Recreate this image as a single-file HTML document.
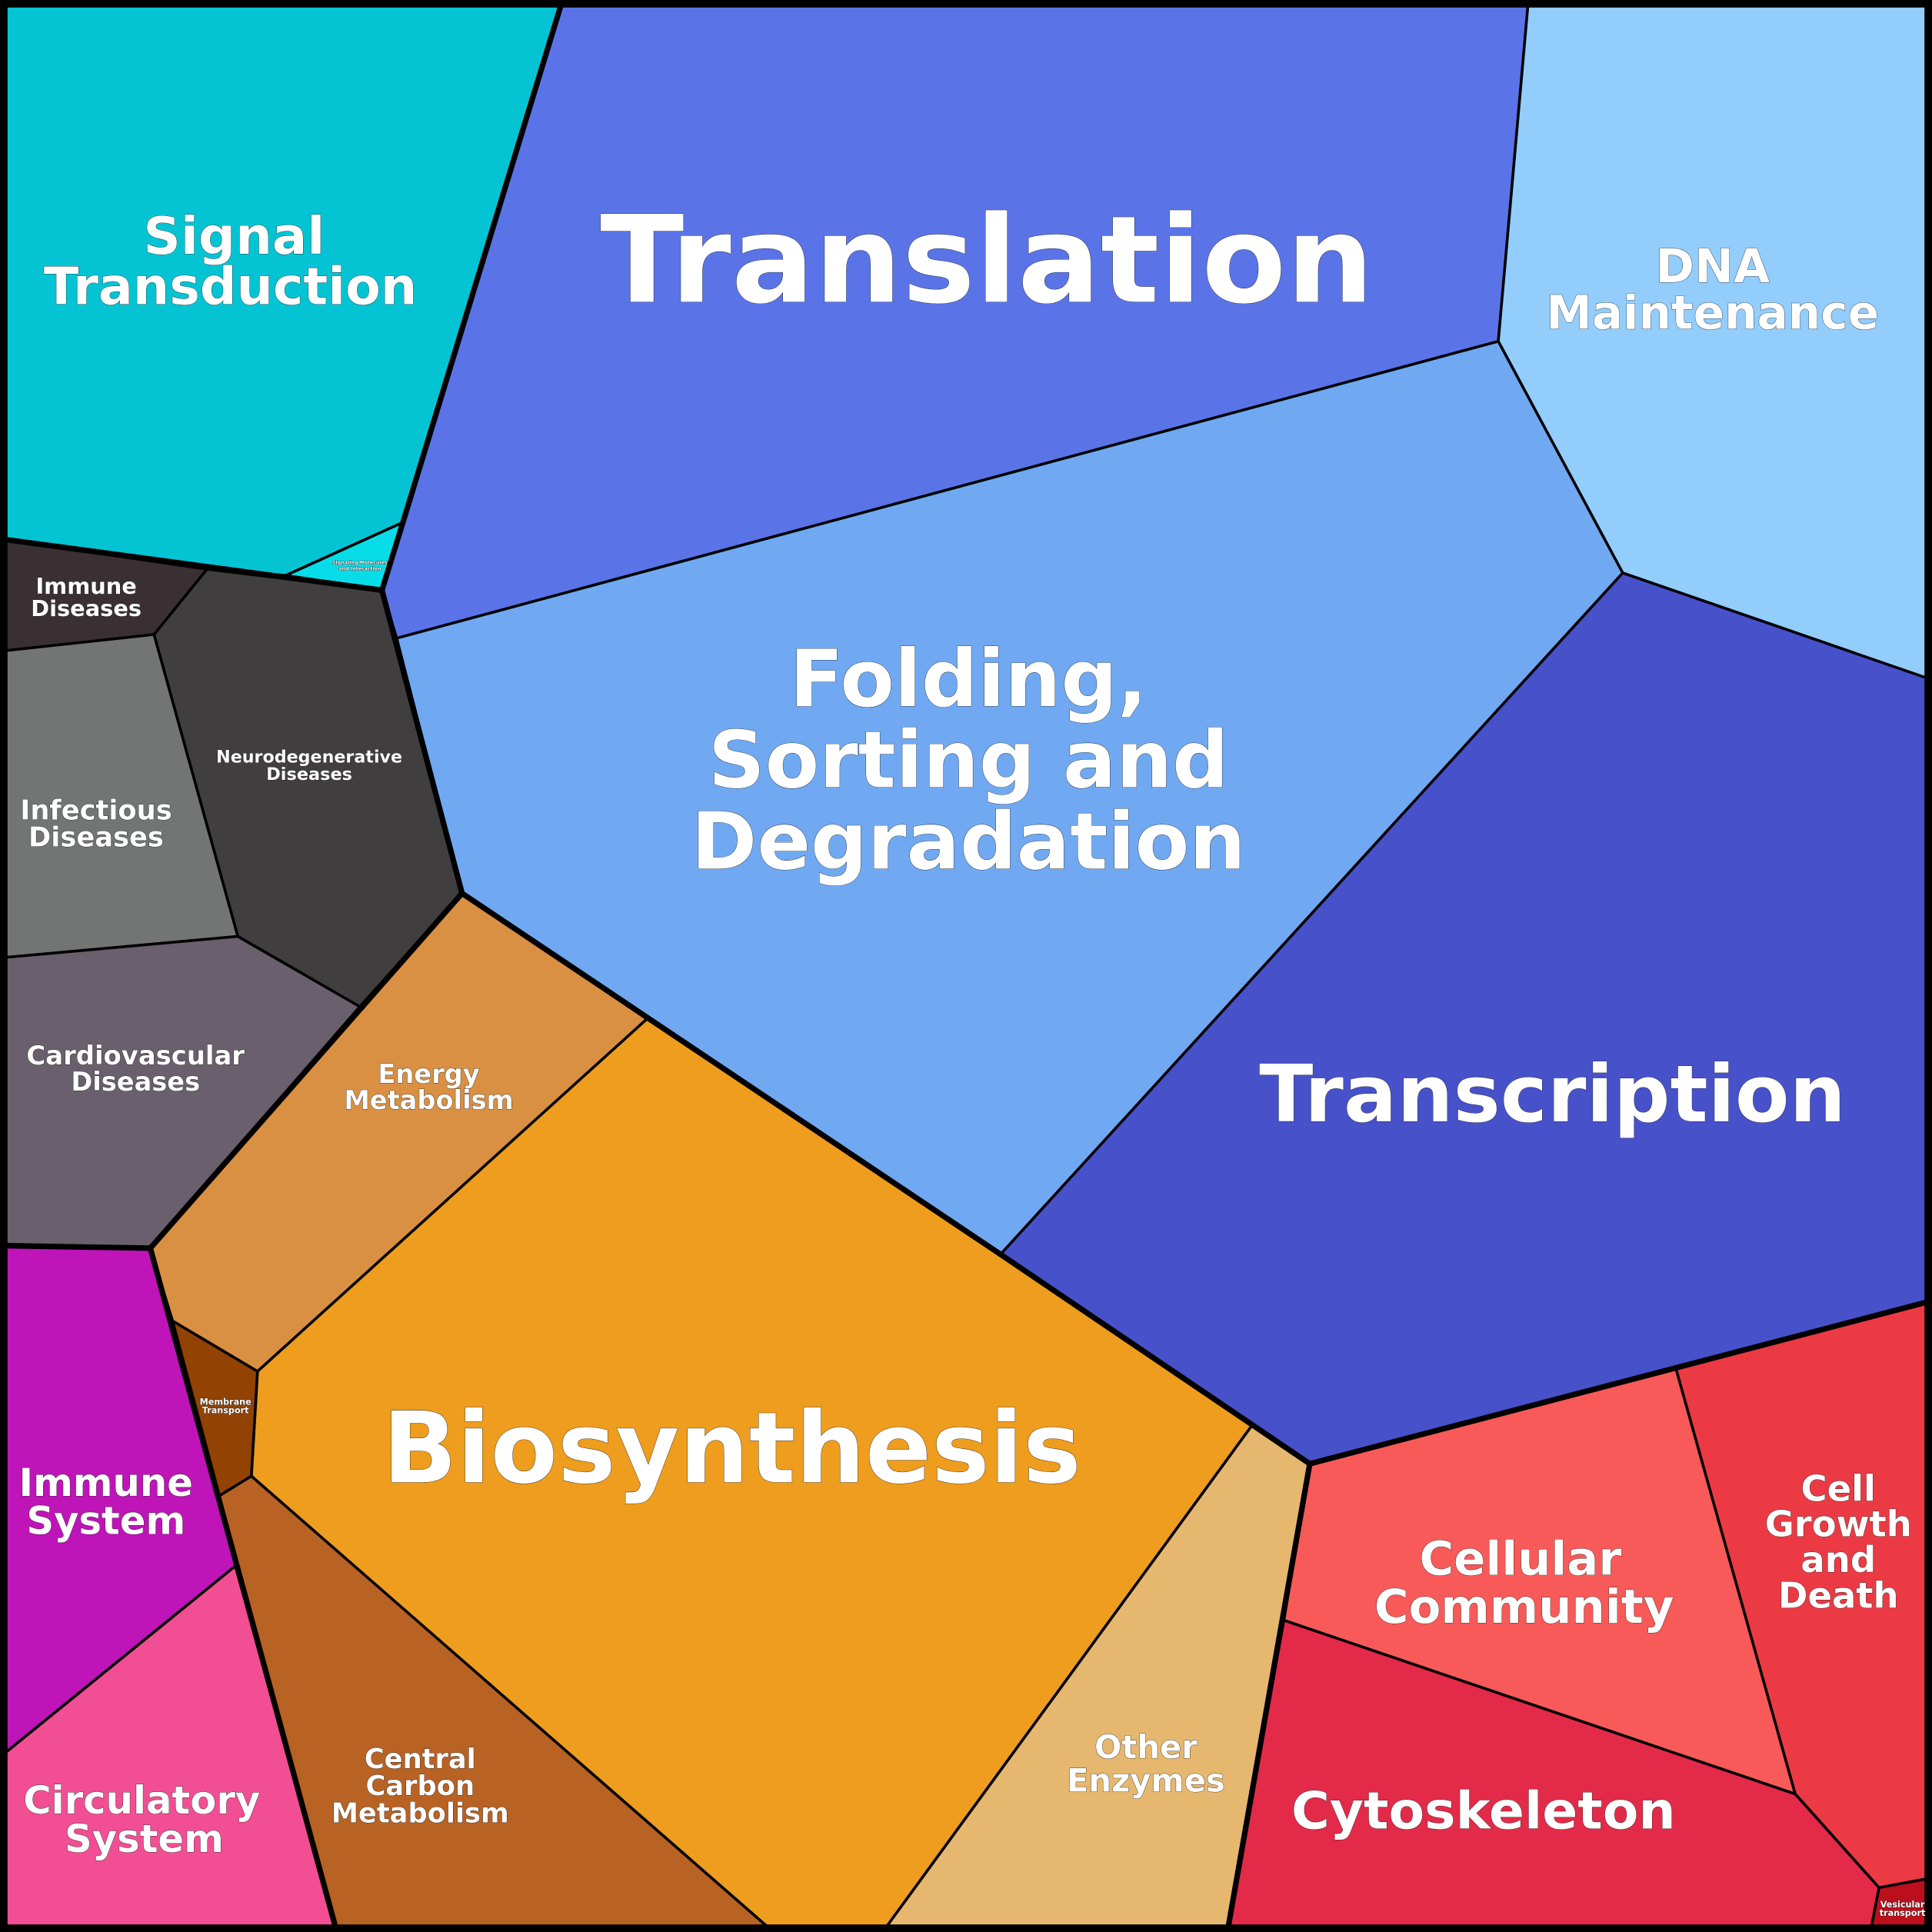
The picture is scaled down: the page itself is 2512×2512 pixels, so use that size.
<!DOCTYPE html>
<html><head><meta charset="utf-8"><style>html,body{margin:0;padding:0;background:#000}svg{display:block}
text{font-family:"DejaVu Sans","Liberation Sans",sans-serif;font-weight:bold;fill:#fff;text-anchor:middle;paint-order:stroke;stroke:#222;stroke-width:0.5px}</style></head><body>
<svg width="2512" height="2512" viewBox="0 0 1568 1568" xmlns="http://www.w3.org/2000/svg">
<g stroke="#000" stroke-width="2.2" stroke-linejoin="round">
<polygon fill="#04C4D4" points="5,5 455,5 327,424 232,467 168,462 5,438"/>
<polygon fill="#06DDE8" points="232,467 327,424 310,479"/>
<polygon fill="#5A74E8" points="455,5 1240,5 1216,277 322,518 310,479 327,424"/>
<polygon fill="#92CDFC" points="1240,5 1563,5 1563,550 1317,465 1216,277"/>
<polygon fill="#70A9F2" points="322,518 1216,277 1317,465 812,1018 525,827 375,725"/>
<polygon fill="#4751CA" points="1317,465 1563,550 1563,1057 1063,1188 812,1018"/>
<polygon fill="#3A2F33" points="5,438 168,462 125,515 5,528"/>
<polygon fill="#403E3F" points="168,462 310,479 375,725 292,817 193,760 125,515"/>
<polygon fill="#737474" points="5,528 125,515 193,760 5,777"/>
<polygon fill="#6A5F6D" points="5,777 193,760 292,817 122,1013 5,1011"/>
<polygon fill="#DA9042" points="375,725 525,827 209,1113 140,1072 122,1013 292,817"/>
<polygon fill="#EE9D1E" points="525,827 812,1018 1016,1157 720,1563 622,1563 204,1198 209,1113"/>
<polygon fill="#924202" points="140,1072 209,1113 204,1198 178,1214"/>
<polygon fill="#B86224" points="178,1214 204,1198 622,1563 272,1563"/>
<polygon fill="#BF14B8" points="5,1011 122,1013 140,1072 178,1214 191,1271 5,1422"/>
<polygon fill="#F24E94" points="5,1422 191,1271 272,1563 5,1563"/>
<polygon fill="#E6B76E" points="1016,1157 1063,1188 997,1563 720,1563"/>
<polygon fill="#F75A58" points="1063,1188 1360,1110 1457,1456 1042,1315"/>
<polygon fill="#EC3A44" points="1360,1110 1563,1057 1563,1525 1525,1532 1457,1456"/>
<polygon fill="#E32A48" points="1042,1315 1457,1456 1525,1532 1519,1563 997,1563"/>
<polygon fill="#BB0F1C" points="1525,1532 1563,1525 1563,1563 1519,1563"/>
</g>
<g stroke="#000" stroke-width="4.5" fill="none" stroke-linejoin="round">
<polyline points="455,5 327,424 310,479 5,438"/>
<polyline points="310,479 375,725 812,1018 1063,1188 997,1563"/>
<polyline points="1063,1188 1563,1057"/>
<polyline points="375,725 122,1013 5,1011"/>
<polyline points="122,1013 272,1563"/>
<rect x="3" y="3" width="1562" height="1562" stroke-width="6"/>
</g>
<text x="190" y="206" font-size="42">Signal</text>
<text x="187" y="247" font-size="42" textLength="303" lengthAdjust="spacingAndGlyphs">Transduction</text>
<text x="801" y="245" font-size="98" textLength="628" lengthAdjust="spacingAndGlyphs">Translation</text>
<text x="1390" y="229" font-size="38">DNA</text>
<text x="1390" y="267" font-size="38" textLength="270" lengthAdjust="spacingAndGlyphs">Maintenance</text>
<text x="786" y="573" font-size="64">Folding,</text>
<text x="786" y="639" font-size="64">Sorting and</text>
<text x="786" y="705" font-size="64" textLength="450" lengthAdjust="spacingAndGlyphs">Degradation</text>
<text x="1260" y="910" font-size="64" textLength="476" lengthAdjust="spacingAndGlyphs">Transcription</text>
<text x="70" y="482" font-size="18">Immune</text>
<text x="70" y="500" font-size="18">Diseases</text>
<text x="251" y="619" font-size="14" textLength="151" lengthAdjust="spacingAndGlyphs">Neurodegenerative</text>
<text x="251" y="633" font-size="14">Diseases</text>
<text x="78" y="665" font-size="22">Infectious</text>
<text x="78" y="687" font-size="22">Diseases</text>
<text x="110" y="864" font-size="21" textLength="177" lengthAdjust="spacingAndGlyphs">Cardiovascular</text>
<text x="110" y="885" font-size="21">Diseases</text>
<text x="348" y="879" font-size="21">Energy</text>
<text x="348" y="900" font-size="21">Metabolism</text>
<text x="594" y="1203" font-size="80" textLength="567" lengthAdjust="spacingAndGlyphs">Biosynthesis</text>
<text x="183" y="1140" font-size="7" stroke-width="0.2">Membrane</text>
<text x="183" y="1147" font-size="7" stroke-width="0.2">Transport</text>
<text x="341" y="1435" font-size="22">Central</text>
<text x="341" y="1457" font-size="22">Carbon</text>
<text x="341" y="1479" font-size="22">Metabolism</text>
<text x="86" y="1214" font-size="31">Immune</text>
<text x="86" y="1245" font-size="31">System</text>
<text x="115" y="1472" font-size="31">Circulatory</text>
<text x="117" y="1503" font-size="31">System</text>
<text x="930" y="1427" font-size="26">Other</text>
<text x="930" y="1454" font-size="26">Enzymes</text>
<text x="1234" y="1278" font-size="38">Cellular</text>
<text x="1237" y="1317" font-size="38">Community</text>
<text x="1492" y="1218" font-size="29">Cell</text>
<text x="1492" y="1247" font-size="29">Growth</text>
<text x="1492" y="1276" font-size="29">and</text>
<text x="1492" y="1305" font-size="29">Death</text>
<text x="1204" y="1484" font-size="42" textLength="312" lengthAdjust="spacingAndGlyphs">Cytoskeleton</text>
<text x="1544" y="1548" font-size="7" stroke-width="0.2">Vesicular</text>
<text x="1544" y="1555" font-size="7" stroke-width="0.2">transport</text>
<text x="292" y="458" font-size="4" stroke-width="0.1">Signaling Molecules</text>
<text x="292" y="463" font-size="4" stroke-width="0.1">and Interaction</text>
</svg>
</body></html>
